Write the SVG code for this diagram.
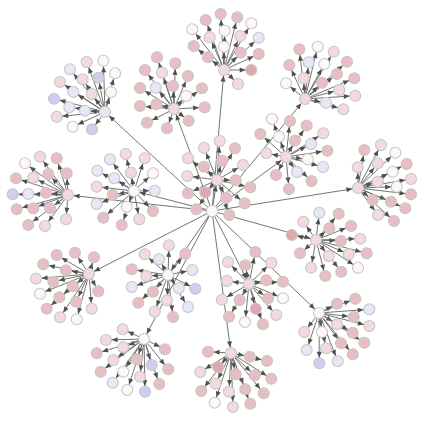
<svg xmlns="http://www.w3.org/2000/svg" width="428" height="422" viewBox="0 0 428 422">
<style>
#connectors line{stroke:#656565;stroke-width:0.9;marker-end:url(#ah)}
circle{stroke:#c6c6c6;stroke-width:1.1}
.a{fill:#e0a7ac}.b{fill:#e9bec2}.c{fill:#f3dadc}.w{fill:#fcf8f8}.v{fill:#cdcef0}.u{fill:#e7e7f6}
</style>
<defs>
<marker id="ah" markerUnits="userSpaceOnUse" markerWidth="7" markerHeight="6" refX="11.6" refY="2.5" orient="auto" overflow="visible"><path d="M0,0 L6,2.5 L0,5 z" fill="#4f4f4f"/></marker>
</defs>
<rect width="428" height="422" fill="#fff"/>
<g id="connectors">
<line x1="212" y1="211" x2="105" y2="112"/><line x1="212" y1="211" x2="68" y2="195"/><line x1="212" y1="211" x2="134" y2="191"/><line x1="212" y1="211" x2="224" y2="70"/><line x1="212" y1="211" x2="174" y2="109"/><line x1="212" y1="211" x2="217" y2="180"/><line x1="212" y1="211" x2="286" y2="157"/><line x1="212" y1="211" x2="305" y2="99"/><line x1="212" y1="211" x2="358" y2="188"/><line x1="212" y1="211" x2="89" y2="274"/><line x1="212" y1="211" x2="144" y2="339"/><line x1="212" y1="211" x2="168" y2="275"/><line x1="212" y1="211" x2="249" y2="284"/><line x1="212" y1="211" x2="231" y2="353"/><line x1="212" y1="211" x2="316" y2="240"/><line x1="212" y1="211" x2="319" y2="313"/>
<line x1="105" y1="112" x2="86.7" y2="62"/><line x1="105" y1="112" x2="103.3" y2="60.7"/><line x1="105" y1="112" x2="70" y2="69.3"/><line x1="105" y1="112" x2="115" y2="73.3"/><line x1="105" y1="112" x2="98.3" y2="77.7"/><line x1="105" y1="112" x2="82.7" y2="79.3"/><line x1="105" y1="112" x2="60" y2="82"/><line x1="105" y1="112" x2="111" y2="92.3"/><line x1="105" y1="112" x2="91.7" y2="94"/><line x1="105" y1="112" x2="73.3" y2="92"/><line x1="105" y1="112" x2="54" y2="98.7"/><line x1="105" y1="112" x2="69.3" y2="107.3"/><line x1="105" y1="112" x2="85" y2="110.7"/><line x1="105" y1="112" x2="56.7" y2="116.7"/><line x1="105" y1="112" x2="72.7" y2="126.7"/><line x1="105" y1="112" x2="92" y2="129.3"/>
<line x1="68" y1="195" x2="40" y2="156.7"/><line x1="68" y1="195" x2="56.7" y2="158.3"/><line x1="68" y1="195" x2="25" y2="163.3"/><line x1="68" y1="195" x2="48.3" y2="174"/><line x1="68" y1="195" x2="66.7" y2="173.3"/><line x1="68" y1="195" x2="33.3" y2="177.7"/><line x1="68" y1="195" x2="16" y2="178.3"/><line x1="68" y1="195" x2="46" y2="192.7"/><line x1="68" y1="195" x2="28.3" y2="194"/><line x1="68" y1="195" x2="12.7" y2="194.3"/><line x1="68" y1="195" x2="16.7" y2="209.3"/><line x1="68" y1="195" x2="33.3" y2="208.3"/><line x1="68" y1="195" x2="50" y2="208.3"/><line x1="68" y1="195" x2="28.3" y2="225"/><line x1="68" y1="195" x2="45" y2="226"/><line x1="68" y1="195" x2="66" y2="219.3"/>
<line x1="134" y1="191" x2="110" y2="159.3"/><line x1="134" y1="191" x2="125.7" y2="154"/><line x1="134" y1="191" x2="144.7" y2="158.3"/><line x1="134" y1="191" x2="97.3" y2="170.7"/><line x1="134" y1="191" x2="114.3" y2="178.3"/><line x1="134" y1="191" x2="131" y2="172.7"/><line x1="134" y1="191" x2="153" y2="173.3"/><line x1="134" y1="191" x2="96.7" y2="186.7"/><line x1="134" y1="191" x2="112.7" y2="195"/><line x1="134" y1="191" x2="154.7" y2="190.7"/><line x1="134" y1="191" x2="96.7" y2="204"/><line x1="134" y1="191" x2="126.7" y2="206.7"/><line x1="134" y1="191" x2="103.3" y2="217.7"/><line x1="134" y1="191" x2="121.7" y2="225"/><line x1="134" y1="191" x2="139.3" y2="219.3"/><line x1="134" y1="191" x2="153" y2="211"/>
<line x1="224" y1="70" x2="220.7" y2="14"/><line x1="224" y1="70" x2="205.7" y2="20"/><line x1="224" y1="70" x2="237.3" y2="17.3"/><line x1="224" y1="70" x2="192.3" y2="29.3"/><line x1="224" y1="70" x2="224.7" y2="30.7"/><line x1="224" y1="70" x2="251.3" y2="23.3"/><line x1="224" y1="70" x2="209.7" y2="37.3"/><line x1="224" y1="70" x2="240.3" y2="36"/><line x1="224" y1="70" x2="258.7" y2="37.7"/><line x1="224" y1="70" x2="193.7" y2="46"/><line x1="224" y1="70" x2="224" y2="46.7"/><line x1="224" y1="70" x2="208" y2="57.3"/><line x1="224" y1="70" x2="240.7" y2="52.7"/><line x1="224" y1="70" x2="258.7" y2="54"/><line x1="224" y1="70" x2="251.3" y2="70"/><line x1="224" y1="70" x2="238" y2="84"/>
<line x1="174" y1="109" x2="157" y2="57.3"/><line x1="174" y1="109" x2="175.3" y2="63.3"/><line x1="174" y1="109" x2="145" y2="70"/><line x1="174" y1="109" x2="162" y2="72.7"/><line x1="174" y1="109" x2="188" y2="76"/><line x1="174" y1="109" x2="155.7" y2="87.7"/><line x1="174" y1="109" x2="173" y2="86"/><line x1="174" y1="109" x2="186.3" y2="96"/><line x1="174" y1="109" x2="202" y2="88.3"/><line x1="174" y1="109" x2="156.3" y2="104.3"/><line x1="174" y1="109" x2="204.7" y2="107.3"/><line x1="174" y1="109" x2="147" y2="122.7"/><line x1="174" y1="109" x2="167" y2="128.3"/><line x1="174" y1="109" x2="188.7" y2="120.7"/><line x1="174" y1="109" x2="140" y2="88"/><line x1="174" y1="109" x2="140" y2="106"/>
<line x1="217" y1="180" x2="219.7" y2="141"/><line x1="217" y1="180" x2="204" y2="147.7"/><line x1="217" y1="180" x2="235" y2="148.3"/><line x1="217" y1="180" x2="188" y2="158.3"/><line x1="217" y1="180" x2="222" y2="160.7"/><line x1="217" y1="180" x2="243" y2="165"/><line x1="217" y1="180" x2="204" y2="166.7"/><line x1="217" y1="180" x2="187.3" y2="176"/><line x1="217" y1="180" x2="235.7" y2="180.3"/><line x1="217" y1="180" x2="250.3" y2="187.3"/><line x1="217" y1="180" x2="188" y2="193.3"/><line x1="217" y1="180" x2="205.3" y2="192.3"/><line x1="217" y1="180" x2="226.3" y2="197.7"/><line x1="217" y1="180" x2="244.7" y2="203.3"/><line x1="217" y1="180" x2="196.3" y2="209.3"/><line x1="217" y1="180" x2="229.3" y2="215"/>
<line x1="286" y1="157" x2="272" y2="119"/><line x1="286" y1="157" x2="290" y2="121"/><line x1="286" y1="157" x2="306.7" y2="125.5"/><line x1="286" y1="157" x2="260.3" y2="134"/><line x1="286" y1="157" x2="279" y2="136.7"/><line x1="286" y1="157" x2="295" y2="140.5"/><line x1="286" y1="157" x2="323.3" y2="133.3"/><line x1="286" y1="157" x2="311" y2="144"/><line x1="286" y1="157" x2="266.3" y2="153.3"/><line x1="286" y1="157" x2="327.5" y2="150.7"/><line x1="286" y1="157" x2="307.7" y2="159.3"/><line x1="286" y1="157" x2="323" y2="167"/><line x1="286" y1="157" x2="276" y2="175"/><line x1="286" y1="157" x2="297" y2="172"/><line x1="286" y1="157" x2="311.5" y2="181"/><line x1="286" y1="157" x2="289" y2="189"/>
<line x1="305" y1="99" x2="299.3" y2="49.3"/><line x1="305" y1="99" x2="317.7" y2="46.7"/><line x1="305" y1="99" x2="289.3" y2="65"/><line x1="305" y1="99" x2="308.7" y2="62.3"/><line x1="305" y1="99" x2="333.7" y2="51.7"/><line x1="305" y1="99" x2="324.3" y2="64"/><line x1="305" y1="99" x2="347" y2="61.7"/><line x1="305" y1="99" x2="337" y2="74"/><line x1="305" y1="99" x2="303.7" y2="78.3"/><line x1="305" y1="99" x2="322" y2="82.7"/><line x1="305" y1="99" x2="354.3" y2="78.3"/><line x1="305" y1="99" x2="286" y2="83.3"/><line x1="305" y1="99" x2="339.3" y2="90"/><line x1="305" y1="99" x2="355.3" y2="95.7"/><line x1="305" y1="99" x2="326" y2="102.7"/><line x1="305" y1="99" x2="343.3" y2="109.3"/>
<line x1="358" y1="188" x2="364.3" y2="150"/><line x1="358" y1="188" x2="381" y2="145"/><line x1="358" y1="188" x2="395.3" y2="152.7"/><line x1="358" y1="188" x2="357.7" y2="167.3"/><line x1="358" y1="188" x2="377.7" y2="163.3"/><line x1="358" y1="188" x2="406.7" y2="164"/><line x1="358" y1="188" x2="392.7" y2="171.7"/><line x1="358" y1="188" x2="377.7" y2="181.7"/><line x1="358" y1="188" x2="411" y2="179"/><line x1="358" y1="188" x2="396.7" y2="186.7"/><line x1="358" y1="188" x2="411" y2="194.3"/><line x1="358" y1="188" x2="372.7" y2="200"/><line x1="358" y1="188" x2="391" y2="201.7"/><line x1="358" y1="188" x2="405.3" y2="208.3"/><line x1="358" y1="188" x2="378" y2="215"/><line x1="358" y1="188" x2="394" y2="221"/>
<line x1="89" y1="274" x2="56.7" y2="255"/><line x1="89" y1="274" x2="75" y2="252.7"/><line x1="89" y1="274" x2="94" y2="257.3"/><line x1="89" y1="274" x2="43.3" y2="264.3"/><line x1="89" y1="274" x2="66" y2="270.3"/><line x1="89" y1="274" x2="36" y2="278.7"/><line x1="89" y1="274" x2="53.3" y2="281.7"/><line x1="89" y1="274" x2="72.7" y2="286.3"/><line x1="89" y1="274" x2="98.3" y2="291.3"/><line x1="89" y1="274" x2="40" y2="293.7"/><line x1="89" y1="274" x2="59.3" y2="297.3"/><line x1="89" y1="274" x2="76" y2="301.7"/><line x1="89" y1="274" x2="91.7" y2="308.7"/><line x1="89" y1="274" x2="46.7" y2="308.7"/><line x1="89" y1="274" x2="60" y2="317.3"/><line x1="89" y1="274" x2="76.7" y2="319.3"/>
<line x1="144" y1="339" x2="122.7" y2="329.3"/><line x1="144" y1="339" x2="106" y2="340"/><line x1="144" y1="339" x2="123.3" y2="347.3"/><line x1="144" y1="339" x2="165" y2="349.3"/><line x1="144" y1="339" x2="96.7" y2="353.3"/><line x1="144" y1="339" x2="113.3" y2="360"/><line x1="144" y1="339" x2="136.7" y2="359.3"/><line x1="144" y1="339" x2="151.7" y2="365"/><line x1="144" y1="339" x2="168.3" y2="369.3"/><line x1="144" y1="339" x2="100.7" y2="371.7"/><line x1="144" y1="339" x2="123.3" y2="371.7"/><line x1="144" y1="339" x2="140" y2="376.7"/><line x1="144" y1="339" x2="112.7" y2="382.7"/><line x1="144" y1="339" x2="159.3" y2="384"/><line x1="144" y1="339" x2="127.3" y2="390"/><line x1="144" y1="339" x2="145" y2="391.7"/>
<line x1="168" y1="275" x2="169" y2="245.3"/><line x1="168" y1="275" x2="159" y2="259.3"/><line x1="168" y1="275" x2="185.3" y2="253.7"/><line x1="168" y1="275" x2="144.7" y2="254.3"/><line x1="168" y1="275" x2="192.3" y2="270"/><line x1="168" y1="275" x2="146.3" y2="276"/><line x1="168" y1="275" x2="178.7" y2="288.3"/><line x1="168" y1="275" x2="195.3" y2="288.7"/><line x1="168" y1="275" x2="153" y2="291.7"/><line x1="168" y1="275" x2="167" y2="300.3"/><line x1="168" y1="275" x2="188" y2="307"/><line x1="168" y1="275" x2="154.7" y2="311.7"/><line x1="168" y1="275" x2="173" y2="317"/><line x1="168" y1="275" x2="131.7" y2="269.3"/><line x1="168" y1="275" x2="131.7" y2="287"/><line x1="168" y1="275" x2="138.3" y2="302.7"/>
<line x1="249" y1="284" x2="255.3" y2="252"/><line x1="249" y1="284" x2="228" y2="262"/><line x1="249" y1="284" x2="245.3" y2="265.3"/><line x1="249" y1="284" x2="271.3" y2="262.7"/><line x1="249" y1="284" x2="227" y2="281"/><line x1="249" y1="284" x2="266.3" y2="280.3"/><line x1="249" y1="284" x2="283" y2="281.7"/><line x1="249" y1="284" x2="222" y2="299.7"/><line x1="249" y1="284" x2="239.7" y2="300"/><line x1="249" y1="284" x2="268" y2="298.3"/><line x1="249" y1="284" x2="283" y2="298.3"/><line x1="249" y1="284" x2="229" y2="316.7"/><line x1="249" y1="284" x2="255.7" y2="308.7"/><line x1="249" y1="284" x2="245" y2="322"/><line x1="249" y1="284" x2="263" y2="324.3"/><line x1="249" y1="284" x2="276.3" y2="315"/>
<line x1="231" y1="353" x2="208" y2="351.7"/><line x1="231" y1="353" x2="249.7" y2="356.7"/><line x1="231" y1="353" x2="267" y2="361"/><line x1="231" y1="353" x2="218" y2="367"/><line x1="231" y1="353" x2="200.3" y2="372"/><line x1="231" y1="353" x2="235.7" y2="374.3"/><line x1="231" y1="353" x2="254.7" y2="375.3"/><line x1="231" y1="353" x2="271.3" y2="378.7"/><line x1="231" y1="353" x2="215.7" y2="383.7"/><line x1="231" y1="353" x2="201.3" y2="391"/><line x1="231" y1="353" x2="229" y2="391.7"/><line x1="231" y1="353" x2="245.3" y2="389.3"/><line x1="231" y1="353" x2="263.7" y2="393.3"/><line x1="231" y1="353" x2="214.7" y2="402.7"/><line x1="231" y1="353" x2="233" y2="407"/><line x1="231" y1="353" x2="250.3" y2="403.7"/>
<line x1="316" y1="240" x2="319.3" y2="212.7"/><line x1="316" y1="240" x2="338.7" y2="213.7"/><line x1="316" y1="240" x2="303.3" y2="221.7"/><line x1="316" y1="240" x2="329.3" y2="228.3"/><line x1="316" y1="240" x2="351" y2="226"/><line x1="316" y1="240" x2="291.7" y2="235"/><line x1="316" y1="240" x2="341" y2="241"/><line x1="316" y1="240" x2="360.3" y2="238.7"/><line x1="316" y1="240" x2="300" y2="253.3"/><line x1="316" y1="240" x2="328.7" y2="256"/><line x1="316" y1="240" x2="348.7" y2="254.3"/><line x1="316" y1="240" x2="366.7" y2="253.3"/><line x1="316" y1="240" x2="311" y2="267.7"/><line x1="316" y1="240" x2="325.3" y2="276"/><line x1="316" y1="240" x2="341.3" y2="271.7"/><line x1="316" y1="240" x2="358" y2="267.7"/>
<line x1="319" y1="313" x2="337" y2="303.7"/><line x1="319" y1="313" x2="355.3" y2="298.7"/><line x1="319" y1="313" x2="369.3" y2="309.3"/><line x1="319" y1="313" x2="353.7" y2="317"/><line x1="319" y1="313" x2="337" y2="324.3"/><line x1="319" y1="313" x2="369.3" y2="326"/><line x1="319" y1="313" x2="304.3" y2="332"/><line x1="319" y1="313" x2="322" y2="332"/><line x1="319" y1="313" x2="352.7" y2="332.7"/><line x1="319" y1="313" x2="341" y2="343.3"/><line x1="319" y1="313" x2="364.3" y2="342.7"/><line x1="319" y1="313" x2="306.7" y2="350"/><line x1="319" y1="313" x2="326" y2="348.3"/><line x1="319" y1="313" x2="352.7" y2="354.3"/><line x1="319" y1="313" x2="319.3" y2="363.3"/><line x1="319" y1="313" x2="337.7" y2="361.3"/>
</g>
<g id="root"><circle cx="212" cy="211" r="5.8" class="w"/></g>
<g id="hubA"><circle cx="105" cy="112" r="5.5" class="u"/></g>
<g id="hubB"><circle cx="68" cy="195" r="5.5" class="c"/></g>
<g id="hubC"><circle cx="134" cy="191" r="5.5" class="w"/></g>
<g id="hubD"><circle cx="224" cy="70" r="5.5" class="c"/></g>
<g id="hubE"><circle cx="174" cy="109" r="5.5" class="c"/></g>
<g id="hubF"><circle cx="217" cy="180" r="5.5" class="c"/></g>
<g id="hubG"><circle cx="286" cy="157" r="5.5" class="c"/></g>
<g id="hubH"><circle cx="305" cy="99" r="5.5" class="c"/></g>
<g id="hubI"><circle cx="358" cy="188" r="5.5" class="c"/></g>
<g id="hubJ"><circle cx="89" cy="274" r="5.5" class="c"/></g>
<g id="hubK"><circle cx="144" cy="339" r="5.5" class="w"/></g>
<g id="hubL"><circle cx="168" cy="275" r="5.5" class="w"/></g>
<g id="hubM"><circle cx="249" cy="284" r="5.5" class="c"/></g>
<g id="hubN"><circle cx="231" cy="353" r="5.5" class="c"/></g>
<g id="hubO"><circle cx="316" cy="240" r="5.5" class="c"/></g>
<g id="hubP"><circle cx="319" cy="313" r="5.5" class="w"/></g>
<g id="A1"><circle cx="86.7" cy="62" r="5.5" class="c"/></g><g id="A2"><circle cx="103.3" cy="60.7" r="5.5" class="w"/></g><g id="A3"><circle cx="70" cy="69.3" r="5.5" class="u"/></g><g id="A4"><circle cx="115" cy="73.3" r="5.5" class="w"/></g><g id="A5"><circle cx="98.3" cy="77.7" r="5.5" class="v"/></g><g id="A6"><circle cx="82.7" cy="79.3" r="5.5" class="c"/></g><g id="A7"><circle cx="60" cy="82" r="5.5" class="c"/></g><g id="A8"><circle cx="111" cy="92.3" r="5.5" class="w"/></g><g id="A9"><circle cx="91.7" cy="94" r="5.5" class="c"/></g><g id="A10"><circle cx="73.3" cy="92" r="5.5" class="u"/></g><g id="A11"><circle cx="54" cy="98.7" r="5.5" class="v"/></g><g id="A12"><circle cx="69.3" cy="107.3" r="5.5" class="u"/></g><g id="A13"><circle cx="85" cy="110.7" r="5.5" class="u"/></g><g id="A14"><circle cx="56.7" cy="116.7" r="5.5" class="c"/></g><g id="A15"><circle cx="72.7" cy="126.7" r="5.5" class="w"/></g><g id="A16"><circle cx="92" cy="129.3" r="5.5" class="v"/></g>
<g id="B1"><circle cx="40" cy="156.7" r="5.5" class="c"/></g><g id="B2"><circle cx="56.7" cy="158.3" r="5.5" class="b"/></g><g id="B3"><circle cx="25" cy="163.3" r="5.5" class="w"/></g><g id="B4"><circle cx="48.3" cy="174" r="5.5" class="b"/></g><g id="B5"><circle cx="66.7" cy="173.3" r="5.5" class="b"/></g><g id="B6"><circle cx="33.3" cy="177.7" r="5.5" class="c"/></g><g id="B7"><circle cx="16" cy="178.3" r="5.5" class="b"/></g><g id="B8"><circle cx="46" cy="192.7" r="5.5" class="b"/></g><g id="B9"><circle cx="28.3" cy="194" r="5.5" class="u"/></g><g id="B10"><circle cx="12.7" cy="194.3" r="5.5" class="v"/></g><g id="B11"><circle cx="16.7" cy="209.3" r="5.5" class="b"/></g><g id="B12"><circle cx="33.3" cy="208.3" r="5.5" class="b"/></g><g id="B13"><circle cx="50" cy="208.3" r="5.5" class="b"/></g><g id="B14"><circle cx="28.3" cy="225" r="5.5" class="b"/></g><g id="B15"><circle cx="45" cy="226" r="5.5" class="c"/></g><g id="B16"><circle cx="66" cy="219.3" r="5.5" class="c"/></g>
<g id="C1"><circle cx="110" cy="159.3" r="5.5" class="u"/></g><g id="C2"><circle cx="125.7" cy="154" r="5.5" class="c"/></g><g id="C3"><circle cx="144.7" cy="158.3" r="5.5" class="c"/></g><g id="C4"><circle cx="97.3" cy="170.7" r="5.5" class="u"/></g><g id="C5"><circle cx="114.3" cy="178.3" r="5.5" class="u"/></g><g id="C6"><circle cx="131" cy="172.7" r="5.5" class="c"/></g><g id="C7"><circle cx="153" cy="173.3" r="5.5" class="w"/></g><g id="C8"><circle cx="96.7" cy="186.7" r="5.5" class="c"/></g><g id="C9"><circle cx="112.7" cy="195" r="5.5" class="b"/></g><g id="C10"><circle cx="154.7" cy="190.7" r="5.5" class="u"/></g><g id="C11"><circle cx="96.7" cy="204" r="5.5" class="u"/></g><g id="C12"><circle cx="126.7" cy="206.7" r="5.5" class="w"/></g><g id="C13"><circle cx="103.3" cy="217.7" r="5.5" class="b"/></g><g id="C14"><circle cx="121.7" cy="225" r="5.5" class="b"/></g><g id="C15"><circle cx="139.3" cy="219.3" r="5.5" class="c"/></g><g id="C16"><circle cx="153" cy="211" r="5.5" class="b"/></g>
<g id="D1"><circle cx="220.7" cy="14" r="5.5" class="b"/></g><g id="D2"><circle cx="205.7" cy="20" r="5.5" class="b"/></g><g id="D3"><circle cx="237.3" cy="17.3" r="5.5" class="b"/></g><g id="D4"><circle cx="192.3" cy="29.3" r="5.5" class="w"/></g><g id="D5"><circle cx="224.7" cy="30.7" r="5.5" class="w"/></g><g id="D6"><circle cx="251.3" cy="23.3" r="5.5" class="w"/></g><g id="D7"><circle cx="209.7" cy="37.3" r="5.5" class="c"/></g><g id="D8"><circle cx="240.3" cy="36" r="5.5" class="c"/></g><g id="D9"><circle cx="258.7" cy="37.7" r="5.5" class="u"/></g><g id="D10"><circle cx="193.7" cy="46" r="5.5" class="b"/></g><g id="D11"><circle cx="224" cy="46.7" r="5.5" class="w"/></g><g id="D12"><circle cx="208" cy="57.3" r="5.5" class="b"/></g><g id="D13"><circle cx="240.7" cy="52.7" r="5.5" class="b"/></g><g id="D14"><circle cx="258.7" cy="54" r="5.5" class="b"/></g><g id="D15"><circle cx="251.3" cy="70" r="5.5" class="a"/></g><g id="D16"><circle cx="238" cy="84" r="5.5" class="c"/></g>
<g id="E1"><circle cx="157" cy="57.3" r="5.5" class="b"/></g><g id="E2"><circle cx="175.3" cy="63.3" r="5.5" class="b"/></g><g id="E3"><circle cx="145" cy="70" r="5.5" class="b"/></g><g id="E4"><circle cx="162" cy="72.7" r="5.5" class="c"/></g><g id="E5"><circle cx="188" cy="76" r="5.5" class="b"/></g><g id="E6"><circle cx="155.7" cy="87.7" r="5.5" class="u"/></g><g id="E7"><circle cx="173" cy="86" r="5.5" class="b"/></g><g id="E8"><circle cx="186.3" cy="96" r="5.5" class="w"/></g><g id="E9"><circle cx="202" cy="88.3" r="5.5" class="b"/></g><g id="E10"><circle cx="156.3" cy="104.3" r="5.5" class="b"/></g><g id="E11"><circle cx="204.7" cy="107.3" r="5.5" class="b"/></g><g id="E12"><circle cx="147" cy="122.7" r="5.5" class="b"/></g><g id="E13"><circle cx="167" cy="128.3" r="5.5" class="b"/></g><g id="E14"><circle cx="188.7" cy="120.7" r="5.5" class="b"/></g><g id="E15"><circle cx="140" cy="88" r="5.5" class="b"/></g><g id="E16"><circle cx="140" cy="106" r="5.5" class="b"/></g>
<g id="F1"><circle cx="219.7" cy="141" r="5.5" class="c"/></g><g id="F2"><circle cx="204" cy="147.7" r="5.5" class="c"/></g><g id="F3"><circle cx="235" cy="148.3" r="5.5" class="b"/></g><g id="F4"><circle cx="188" cy="158.3" r="5.5" class="c"/></g><g id="F5"><circle cx="222" cy="160.7" r="5.5" class="b"/></g><g id="F6"><circle cx="243" cy="165" r="5.5" class="c"/></g><g id="F7"><circle cx="204" cy="166.7" r="5.5" class="b"/></g><g id="F8"><circle cx="187.3" cy="176" r="5.5" class="c"/></g><g id="F9"><circle cx="235.7" cy="180.3" r="5.5" class="b"/></g><g id="F10"><circle cx="250.3" cy="187.3" r="5.5" class="b"/></g><g id="F11"><circle cx="188" cy="193.3" r="5.5" class="b"/></g><g id="F12"><circle cx="205.3" cy="192.3" r="5.5" class="a"/></g><g id="F13"><circle cx="226.3" cy="197.7" r="5.5" class="b"/></g><g id="F14"><circle cx="244.7" cy="203.3" r="5.5" class="b"/></g><g id="F15"><circle cx="196.3" cy="209.3" r="5.5" class="b"/></g><g id="F16"><circle cx="229.3" cy="215" r="5.5" class="b"/></g>
<g id="G1"><circle cx="272" cy="119" r="5.5" class="w"/></g><g id="G2"><circle cx="290" cy="121" r="5.5" class="b"/></g><g id="G3"><circle cx="306.7" cy="125.5" r="5.5" class="b"/></g><g id="G4"><circle cx="260.3" cy="134" r="5.5" class="b"/></g><g id="G5"><circle cx="279" cy="136.7" r="5.5" class="w"/></g><g id="G6"><circle cx="295" cy="140.5" r="5.5" class="b"/></g><g id="G7"><circle cx="323.3" cy="133.3" r="5.5" class="c"/></g><g id="G8"><circle cx="311" cy="144" r="5.5" class="u"/></g><g id="G9"><circle cx="266.3" cy="153.3" r="5.5" class="c"/></g><g id="G10"><circle cx="327.5" cy="150.7" r="5.5" class="b"/></g><g id="G11"><circle cx="307.7" cy="159.3" r="5.5" class="w"/></g><g id="G12"><circle cx="323" cy="167" r="5.5" class="u"/></g><g id="G13"><circle cx="276" cy="175" r="5.5" class="b"/></g><g id="G14"><circle cx="297" cy="172" r="5.5" class="u"/></g><g id="G15"><circle cx="311.5" cy="181" r="5.5" class="b"/></g><g id="G16"><circle cx="289" cy="189" r="5.5" class="b"/></g>
<g id="H1"><circle cx="299.3" cy="49.3" r="5.5" class="b"/></g><g id="H2"><circle cx="317.7" cy="46.7" r="5.5" class="w"/></g><g id="H3"><circle cx="289.3" cy="65" r="5.5" class="b"/></g><g id="H4"><circle cx="308.7" cy="62.3" r="5.5" class="u"/></g><g id="H5"><circle cx="333.7" cy="51.7" r="5.5" class="c"/></g><g id="H6"><circle cx="324.3" cy="64" r="5.5" class="w"/></g><g id="H7"><circle cx="347" cy="61.7" r="5.5" class="b"/></g><g id="H8"><circle cx="337" cy="74" r="5.5" class="b"/></g><g id="H9"><circle cx="303.7" cy="78.3" r="5.5" class="c"/></g><g id="H10"><circle cx="322" cy="82.7" r="5.5" class="b"/></g><g id="H11"><circle cx="354.3" cy="78.3" r="5.5" class="b"/></g><g id="H12"><circle cx="286" cy="83.3" r="5.5" class="w"/></g><g id="H13"><circle cx="339.3" cy="90" r="5.5" class="c"/></g><g id="H14"><circle cx="355.3" cy="95.7" r="5.5" class="c"/></g><g id="H15"><circle cx="326" cy="102.7" r="5.5" class="u"/></g><g id="H16"><circle cx="343.3" cy="109.3" r="5.5" class="c"/></g>
<g id="I1"><circle cx="364.3" cy="150" r="5.5" class="b"/></g><g id="I2"><circle cx="381" cy="145" r="5.5" class="c"/></g><g id="I3"><circle cx="395.3" cy="152.7" r="5.5" class="w"/></g><g id="I4"><circle cx="357.7" cy="167.3" r="5.5" class="c"/></g><g id="I5"><circle cx="377.7" cy="163.3" r="5.5" class="c"/></g><g id="I6"><circle cx="406.7" cy="164" r="5.5" class="b"/></g><g id="I7"><circle cx="392.7" cy="171.7" r="5.5" class="w"/></g><g id="I8"><circle cx="377.7" cy="181.7" r="5.5" class="c"/></g><g id="I9"><circle cx="411" cy="179" r="5.5" class="c"/></g><g id="I10"><circle cx="396.7" cy="186.7" r="5.5" class="w"/></g><g id="I11"><circle cx="411" cy="194.3" r="5.5" class="b"/></g><g id="I12"><circle cx="372.7" cy="200" r="5.5" class="b"/></g><g id="I13"><circle cx="391" cy="201.7" r="5.5" class="b"/></g><g id="I14"><circle cx="405.3" cy="208.3" r="5.5" class="b"/></g><g id="I15"><circle cx="378" cy="215" r="5.5" class="c"/></g><g id="I16"><circle cx="394" cy="221" r="5.5" class="b"/></g>
<g id="J1"><circle cx="56.7" cy="255" r="5.5" class="b"/></g><g id="J2"><circle cx="75" cy="252.7" r="5.5" class="b"/></g><g id="J3"><circle cx="94" cy="257.3" r="5.5" class="b"/></g><g id="J4"><circle cx="43.3" cy="264.3" r="5.5" class="b"/></g><g id="J5"><circle cx="66" cy="270.3" r="5.5" class="b"/></g><g id="J6"><circle cx="36" cy="278.7" r="5.5" class="c"/></g><g id="J7"><circle cx="53.3" cy="281.7" r="5.5" class="b"/></g><g id="J8"><circle cx="72.7" cy="286.3" r="5.5" class="b"/></g><g id="J9"><circle cx="98.3" cy="291.3" r="5.5" class="b"/></g><g id="J10"><circle cx="40" cy="293.7" r="5.5" class="w"/></g><g id="J11"><circle cx="59.3" cy="297.3" r="5.5" class="b"/></g><g id="J12"><circle cx="76" cy="301.7" r="5.5" class="b"/></g><g id="J13"><circle cx="91.7" cy="308.7" r="5.5" class="c"/></g><g id="J14"><circle cx="46.7" cy="308.7" r="5.5" class="b"/></g><g id="J15"><circle cx="60" cy="317.3" r="5.5" class="c"/></g><g id="J16"><circle cx="76.7" cy="319.3" r="5.5" class="w"/></g>
<g id="K1"><circle cx="122.7" cy="329.3" r="5.5" class="c"/></g><g id="K2"><circle cx="106" cy="340" r="5.5" class="c"/></g><g id="K3"><circle cx="123.3" cy="347.3" r="5.5" class="c"/></g><g id="K4"><circle cx="165" cy="349.3" r="5.5" class="b"/></g><g id="K5"><circle cx="96.7" cy="353.3" r="5.5" class="b"/></g><g id="K6"><circle cx="113.3" cy="360" r="5.5" class="c"/></g><g id="K7"><circle cx="136.7" cy="359.3" r="5.5" class="b"/></g><g id="K8"><circle cx="151.7" cy="365" r="5.5" class="v"/></g><g id="K9"><circle cx="168.3" cy="369.3" r="5.5" class="b"/></g><g id="K10"><circle cx="100.7" cy="371.7" r="5.5" class="b"/></g><g id="K11"><circle cx="123.3" cy="371.7" r="5.5" class="w"/></g><g id="K12"><circle cx="140" cy="376.7" r="5.5" class="c"/></g><g id="K13"><circle cx="112.7" cy="382.7" r="5.5" class="u"/></g><g id="K14"><circle cx="159.3" cy="384" r="5.5" class="b"/></g><g id="K15"><circle cx="127.3" cy="390" r="5.5" class="w"/></g><g id="K16"><circle cx="145" cy="391.7" r="5.5" class="v"/></g>
<g id="L1"><circle cx="169" cy="245.3" r="5.5" class="c"/></g><g id="L2"><circle cx="159" cy="259.3" r="5.5" class="u"/></g><g id="L3"><circle cx="185.3" cy="253.7" r="5.5" class="b"/></g><g id="L4"><circle cx="144.7" cy="254.3" r="5.5" class="c"/></g><g id="L5"><circle cx="192.3" cy="270" r="5.5" class="u"/></g><g id="L6"><circle cx="146.3" cy="276" r="5.5" class="c"/></g><g id="L7"><circle cx="178.7" cy="288.3" r="5.5" class="u"/></g><g id="L8"><circle cx="195.3" cy="288.7" r="5.5" class="v"/></g><g id="L9"><circle cx="153" cy="291.7" r="5.5" class="b"/></g><g id="L10"><circle cx="167" cy="300.3" r="5.5" class="c"/></g><g id="L11"><circle cx="188" cy="307" r="5.5" class="u"/></g><g id="L12"><circle cx="154.7" cy="311.7" r="5.5" class="c"/></g><g id="L13"><circle cx="173" cy="317" r="5.5" class="b"/></g><g id="L14"><circle cx="131.7" cy="269.3" r="5.5" class="b"/></g><g id="L15"><circle cx="131.7" cy="287" r="5.5" class="u"/></g><g id="L16"><circle cx="138.3" cy="302.7" r="5.5" class="b"/></g>
<g id="M1"><circle cx="255.3" cy="252" r="5.5" class="b"/></g><g id="M2"><circle cx="228" cy="262" r="5.5" class="c"/></g><g id="M3"><circle cx="245.3" cy="265.3" r="5.5" class="b"/></g><g id="M4"><circle cx="271.3" cy="262.7" r="5.5" class="c"/></g><g id="M5"><circle cx="227" cy="281" r="5.5" class="c"/></g><g id="M6"><circle cx="266.3" cy="280.3" r="5.5" class="b"/></g><g id="M7"><circle cx="283" cy="281.7" r="5.5" class="b"/></g><g id="M8"><circle cx="222" cy="299.7" r="5.5" class="c"/></g><g id="M9"><circle cx="239.7" cy="300" r="5.5" class="b"/></g><g id="M10"><circle cx="268" cy="298.3" r="5.5" class="b"/></g><g id="M11"><circle cx="283" cy="298.3" r="5.5" class="w"/></g><g id="M12"><circle cx="229" cy="316.7" r="5.5" class="b"/></g><g id="M13"><circle cx="255.7" cy="308.7" r="5.5" class="a"/></g><g id="M14"><circle cx="245" cy="322" r="5.5" class="w"/></g><g id="M15"><circle cx="263" cy="324.3" r="5.5" class="b"/></g><g id="M16"><circle cx="276.3" cy="315" r="5.5" class="c"/></g>
<g id="N1"><circle cx="208" cy="351.7" r="5.5" class="b"/></g><g id="N2"><circle cx="249.7" cy="356.7" r="5.5" class="b"/></g><g id="N3"><circle cx="267" cy="361" r="5.5" class="b"/></g><g id="N4"><circle cx="218" cy="367" r="5.5" class="a"/></g><g id="N5"><circle cx="200.3" cy="372" r="5.5" class="c"/></g><g id="N6"><circle cx="235.7" cy="374.3" r="5.5" class="b"/></g><g id="N7"><circle cx="254.7" cy="375.3" r="5.5" class="b"/></g><g id="N8"><circle cx="271.3" cy="378.7" r="5.5" class="b"/></g><g id="N9"><circle cx="215.7" cy="383.7" r="5.5" class="c"/></g><g id="N10"><circle cx="201.3" cy="391" r="5.5" class="b"/></g><g id="N11"><circle cx="229" cy="391.7" r="5.5" class="c"/></g><g id="N12"><circle cx="245.3" cy="389.3" r="5.5" class="b"/></g><g id="N13"><circle cx="263.7" cy="393.3" r="5.5" class="b"/></g><g id="N14"><circle cx="214.7" cy="402.7" r="5.5" class="w"/></g><g id="N15"><circle cx="233" cy="407" r="5.5" class="c"/></g><g id="N16"><circle cx="250.3" cy="403.7" r="5.5" class="b"/></g>
<g id="O1"><circle cx="319.3" cy="212.7" r="5.5" class="u"/></g><g id="O2"><circle cx="338.7" cy="213.7" r="5.5" class="b"/></g><g id="O3"><circle cx="303.3" cy="221.7" r="5.5" class="c"/></g><g id="O4"><circle cx="329.3" cy="228.3" r="5.5" class="b"/></g><g id="O5"><circle cx="351" cy="226" r="5.5" class="b"/></g><g id="O6"><circle cx="291.7" cy="235" r="5.5" class="a"/></g><g id="O7"><circle cx="341" cy="241" r="5.5" class="b"/></g><g id="O8"><circle cx="360.3" cy="238.7" r="5.5" class="c"/></g><g id="O9"><circle cx="300" cy="253.3" r="5.5" class="b"/></g><g id="O10"><circle cx="328.7" cy="256" r="5.5" class="c"/></g><g id="O11"><circle cx="348.7" cy="254.3" r="5.5" class="c"/></g><g id="O12"><circle cx="366.7" cy="253.3" r="5.5" class="b"/></g><g id="O13"><circle cx="311" cy="267.7" r="5.5" class="c"/></g><g id="O14"><circle cx="325.3" cy="276" r="5.5" class="b"/></g><g id="O15"><circle cx="341.3" cy="271.7" r="5.5" class="b"/></g><g id="O16"><circle cx="358" cy="267.7" r="5.5" class="w"/></g>
<g id="P1"><circle cx="337" cy="303.7" r="5.5" class="b"/></g><g id="P2"><circle cx="355.3" cy="298.7" r="5.5" class="b"/></g><g id="P3"><circle cx="369.3" cy="309.3" r="5.5" class="u"/></g><g id="P4"><circle cx="353.7" cy="317" r="5.5" class="b"/></g><g id="P5"><circle cx="337" cy="324.3" r="5.5" class="c"/></g><g id="P6"><circle cx="369.3" cy="326" r="5.5" class="c"/></g><g id="P7"><circle cx="304.3" cy="332" r="5.5" class="c"/></g><g id="P8"><circle cx="322" cy="332" r="5.5" class="w"/></g><g id="P9"><circle cx="352.7" cy="332.7" r="5.5" class="b"/></g><g id="P10"><circle cx="341" cy="343.3" r="5.5" class="b"/></g><g id="P11"><circle cx="364.3" cy="342.7" r="5.5" class="b"/></g><g id="P12"><circle cx="306.7" cy="350" r="5.5" class="u"/></g><g id="P13"><circle cx="326" cy="348.3" r="5.5" class="c"/></g><g id="P14"><circle cx="352.7" cy="354.3" r="5.5" class="b"/></g><g id="P15"><circle cx="319.3" cy="363.3" r="5.5" class="v"/></g><g id="P16"><circle cx="337.7" cy="361.3" r="5.5" class="u"/></g>
</svg>
